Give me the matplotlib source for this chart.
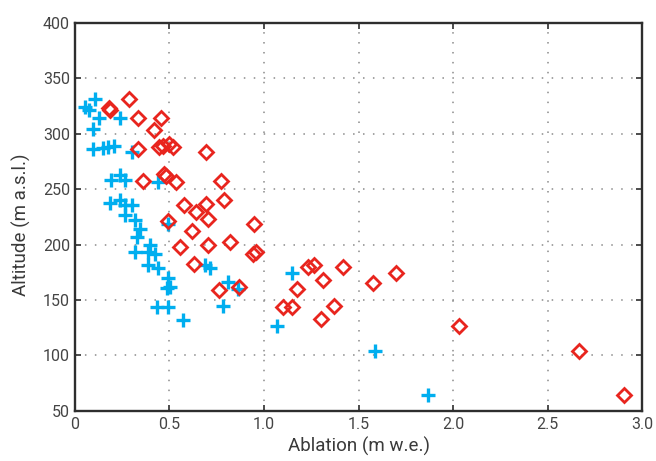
#!/usr/bin/env python3
# ablation_altitude.py

import matplotlib
matplotlib.use("Agg")
import matplotlib.pyplot as plt
from matplotlib.ticker import MultipleLocator, FuncFormatter

# Ablation (m w.e.) against altitude (m a.s.l.) for the two measurement sets
blue_ablation = [
    0.107, 0.054, 0.076, 0.130, 0.239, 0.098, 0.098, 0.149, 0.176, 0.208,
    0.301, 0.189, 0.239, 0.266, 0.442, 0.186, 0.239, 0.266, 0.301, 0.266,
    0.319, 0.345, 0.494, 0.328, 0.319, 0.398, 0.389, 0.424, 0.389, 0.442,
    0.494, 0.486, 0.503, 0.433, 0.494, 0.574, 0.688, 0.715, 0.811, 0.864,
    0.785, 1.146, 1.067, 1.586, 1.868,
]
blue_altitude = [
    331.5, 323.9, 320.9, 314.0, 314.0, 304.5, 285.8, 286.7, 287.6, 288.5,
    283.4, 257.9, 262.4, 258.4, 256.4, 237.0, 239.9, 235.4, 236.0, 226.4,
    221.9, 214.4, 218.9, 206.9, 193.4, 199.4, 193.4, 191.9, 181.7, 178.7,
    169.4, 160.4, 161.9, 143.9, 143.9, 131.9, 181.4, 179.0, 166.4, 159.8,
    144.8, 173.9, 126.5, 104.0, 64.4,
]

red_ablation = [
    0.288, 0.179, 0.186, 0.332, 0.456, 0.421, 0.447, 0.465, 0.500, 0.517,
    0.332, 0.694, 0.362, 0.474, 0.483, 0.535, 0.774, 0.579, 0.643, 0.694,
    0.791, 0.491, 0.703, 0.950, 0.619, 0.556, 0.704, 0.823, 0.941, 0.959,
    0.632, 0.765, 0.870, 1.175, 1.232, 1.267, 1.417, 1.311, 1.576, 1.699,
    1.099, 1.149, 1.303, 1.373, 2.032, 2.664, 2.902,
]
red_altitude = [
    331.1, 322.6, 321.5, 313.6, 314.0, 303.5, 287.6, 289.1, 290.7, 287.6,
    286.2, 283.1, 257.1, 263.7, 262.2, 256.2, 257.1, 235.9, 229.3, 236.8,
    240.4, 220.9, 223.3, 218.7, 212.4, 197.6, 199.8, 202.3, 191.9, 193.4,
    182.8, 159.0, 161.4, 159.9, 179.9, 181.4, 179.9, 168.0, 165.0, 174.5,
    144.0, 143.4, 132.7, 144.6, 126.2, 104.2, 64.7,
]

BLUE = "#00aeef"
RED = "#e8251e"
SPINE = "#2e2e2e"


def plot(ax):
    ax.plot(blue_ablation, blue_altitude, linestyle="none", marker="+",
            markersize=10.5, markeredgewidth=2.4, color=BLUE, zorder=3)
    ax.plot(red_ablation, red_altitude, linestyle="none", marker="D",
            markersize=7.2, markeredgewidth=2.0, markerfacecolor="none",
            markeredgecolor=RED, zorder=4)

    ax.set_xlim(0, 3.0)
    ax.set_ylim(50, 400)
    ax.xaxis.set_major_locator(MultipleLocator(0.5))
    ax.yaxis.set_major_locator(MultipleLocator(50))
    ax.xaxis.set_major_formatter(
        FuncFormatter(lambda v, _: "0" if v == 0 else f"{v:.1f}"))

    # dotted grid, ticks pointing inward on every side
    ax.grid(True, color="#8a8a8a", linestyle=(0, (1, 5.5)), linewidth=1.1)
    ax.set_axisbelow(True)
    ax.tick_params(direction="in", length=4, width=1.2, color=SPINE,
                   top=True, right=True, labelsize=11.5, labelcolor="#444444")
    ax.tick_params(axis="y", pad=3.5)
    ax.tick_params(axis="x", pad=4)
    for spine in ax.spines.values():
        spine.set_color(SPINE)
        spine.set_linewidth(1.7)

    ax.set_xlabel("Ablation (m w.e.)", fontsize=13.5, color="#3a3a3a", labelpad=4)
    ax.set_ylabel("Altitude (m a.s.l.)", fontsize=13.5, color="#3a3a3a")
    ax.yaxis.set_label_coords(-0.077, 0.48)


def main():
    plt.rcParams["font.family"] = ["Roboto", "DejaVu Sans"]
    fig = plt.figure(figsize=(6.56, 4.61), dpi=100)
    ax = fig.add_axes([0.114, 0.1085, 0.865, 0.8425])
    plot(ax)
    fig.savefig("out.png", dpi=100, facecolor="white")


if __name__ == "__main__":
    main()
